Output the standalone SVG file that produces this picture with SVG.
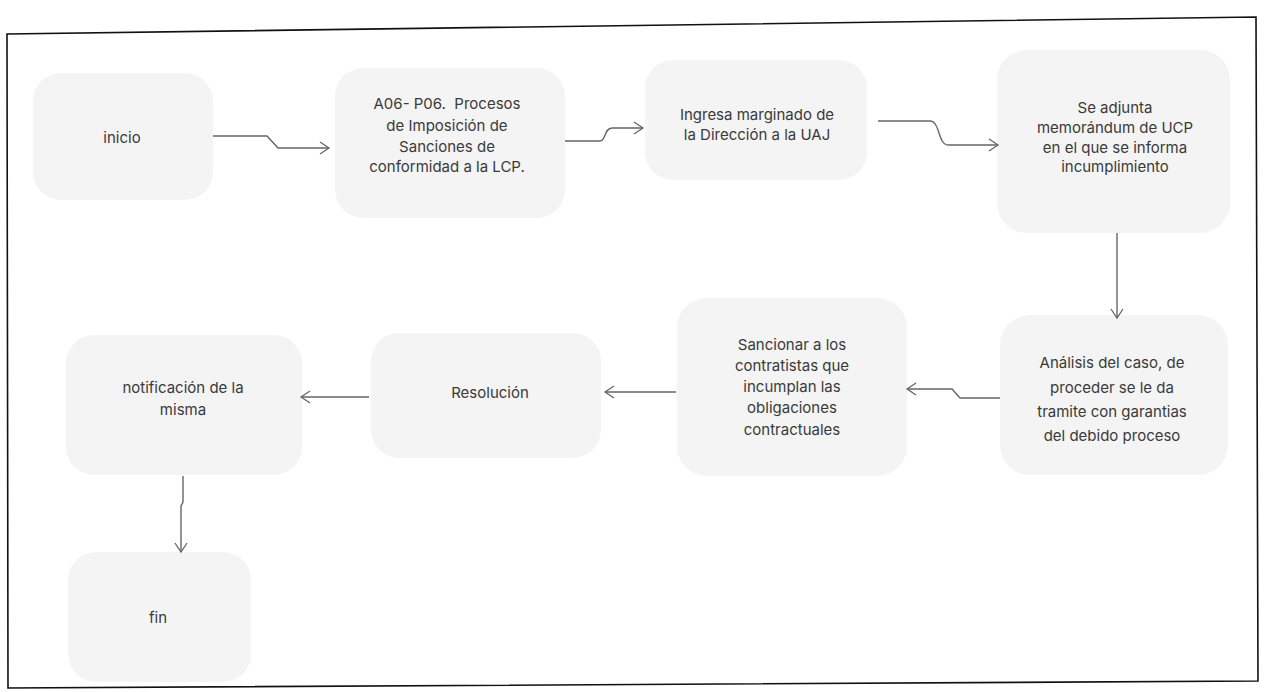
<svg xmlns="http://www.w3.org/2000/svg" width="1266" height="692" viewBox="0 0 1266 692">
<style>
.node rect{fill:#f4f4f4;stroke:none}
.node text{font-family:Inter,"Liberation Sans",sans-serif;font-size:15px;fill:#3a3a3a;text-anchor:middle}
.conn path{fill:none;stroke:#666;stroke-width:1.4;marker-end:url(#arr)}
.frame{fill:none;stroke:#111;stroke-width:1.6}
</style>
<defs>
<marker id="arr" markerUnits="userSpaceOnUse" markerWidth="12" markerHeight="14" refX="10" refY="7" orient="auto">
<path d="M1,1 L10,7 L1,13" fill="none" stroke="#666" stroke-width="1.3"/>
</marker>
</defs>
<rect width="1266" height="692" fill="#fff"/>
<polygon class="frame" points="7,34 1256,17 1258,681 8,688"/>
<g id="n1" class="node"><rect x="33" y="73" width="180" height="127" rx="28"/><text x="122" y="143">inicio</text></g>
<g id="n2" class="node"><rect x="335" y="68" width="230" height="150" rx="28"/><text x="447" y="109">A06- P06.&#160; Procesos</text><text x="447" y="131">de Imposición de</text><text x="447" y="152">Sanciones de</text><text x="447" y="172">conformidad a la LCP.</text></g>
<g id="n3" class="node"><rect x="645" y="60" width="222" height="120" rx="28"/><text x="757" y="120">Ingresa marginado de</text><text x="757" y="140">la Dirección a la UAJ</text></g>
<g id="n4" class="node"><rect x="997" y="50" width="233" height="183" rx="30"/><text x="1115" y="113">Se adjunta</text><text x="1115" y="133">memorándum de UCP</text><text x="1115" y="153">en el que se informa</text><text x="1115" y="172">incumplimiento</text></g>
<g id="n5" class="node"><rect x="1000" y="315" width="228" height="160" rx="30"/><text x="1112" y="368">Análisis del caso, de</text><text x="1112" y="393">proceder se le da</text><text x="1112" y="417">tramite con garantias</text><text x="1112" y="441">del debido proceso</text></g>
<g id="n6" class="node"><rect x="677" y="298" width="230" height="178" rx="30"/><text x="792" y="350">Sancionar a los</text><text x="792" y="371">contratistas que</text><text x="792" y="392">incumplan las</text><text x="792" y="413">obligaciones</text><text x="792" y="435">contractuales</text></g>
<g id="n7" class="node"><rect x="371" y="333" width="230" height="125" rx="28"/><text x="490" y="398">Resolución</text></g>
<g id="n8" class="node"><rect x="66" y="335" width="236" height="140" rx="28"/><text x="183" y="393">notificación de la</text><text x="183" y="415">misma</text></g>
<g id="n9" class="node"><rect x="68" y="552" width="183" height="130" rx="28"/><text x="158" y="623">fin</text></g>
<g id="connectors" class="conn">
<path d="M213,136 H267 L278,148 H329"/>
<path d="M565,141 H600 C606,141 604,128 612,128 H643"/>
<path d="M878,121 H930 C940,121 938,145 948,145 H998"/>
<path d="M1117,233 V318"/>
<path d="M1000,398 H960 L952,389 H907"/>
<path d="M676,392 H605"/>
<path d="M369,397 H301"/>
<path d="M183,476 V502 L181,506 V552"/>
</g>
</svg>
